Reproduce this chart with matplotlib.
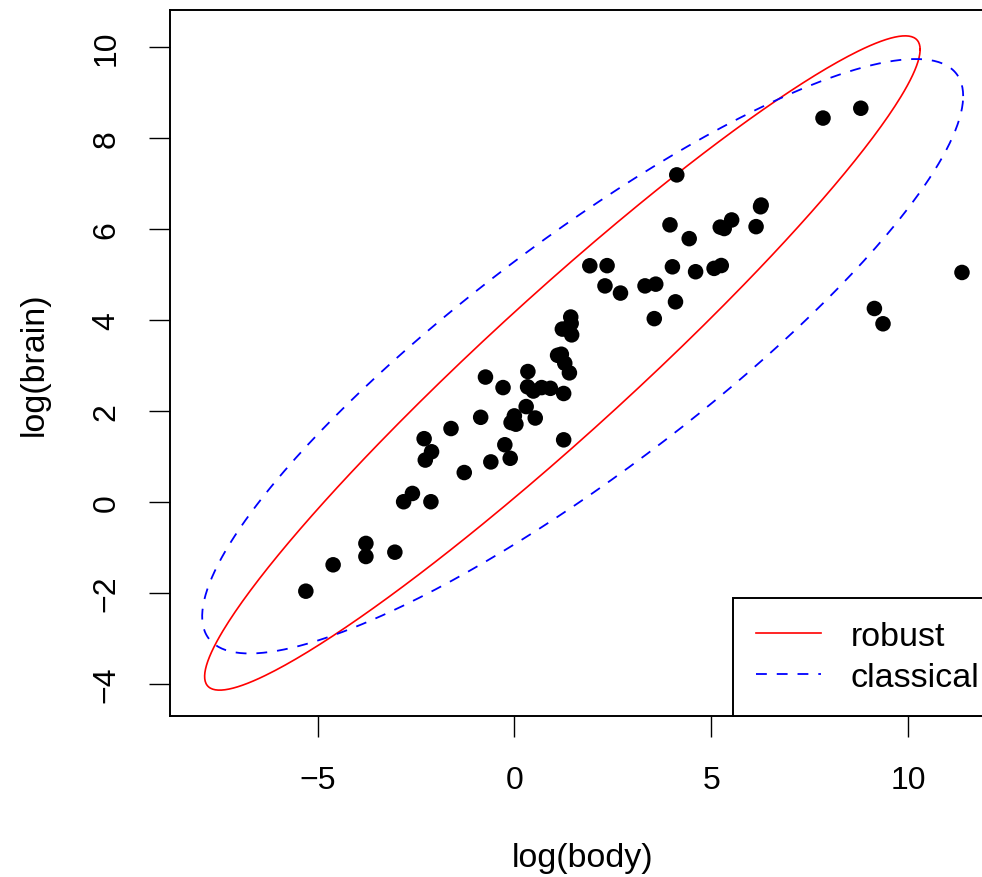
import numpy as np
import matplotlib
matplotlib.use('Agg')
import matplotlib.pyplot as plt

plt.rcParams['font.family'] = ['Liberation Sans', 'DejaVu Sans']

# Animals2: body weight (kg), brain weight (g)
animal = ["Arctic fox", "Owl monkey", "Mountain beaver", "Cow", "Grey wolf", "Goat",
          "Roe deer", "Guinea pig", "Verbet", "Chinchilla", "Ground squirrel",
          "Arctic ground squirrel", "African giant pouched rat", "Lesser short-tailed shrew",
          "Star-nosed mole", "Nine-banded armadillo", "Tree hyrax", "N.A. opossum",
          "Asian elephant", "Big brown bat", "Donkey", "Horse", "European hedgehog",
          "Patas monkey", "Cat", "Galago", "Genet", "Giraffe", "Gorilla", "Grey seal",
          "Rock hyrax-a", "Human", "African elephant", "Water opossum", "Rhesus monkey",
          "Kangaroo", "Yellow-bellied marmot", "Golden hamster", "Mouse", "Little brown bat",
          "Slow loris", "Okapi", "Rabbit", "Sheep", "Jaguar", "Chimpanzee", "Baboon",
          "Desert hedgehog", "Giant armadillo", "Rock hyrax-b", "Raccoon", "Rat",
          "E. American mole", "Mole rat", "Musk shrew", "Pig", "Echidna", "Brazilian tapir",
          "Tenrec", "Phalanger", "Tree shrew", "Red fox",
          "Brachiosaurus", "Triceratops", "Dipliodocus"]
body = [3.385, 0.48, 1.35, 465, 36.33, 27.66, 14.83, 1.04, 4.19, 0.425, 0.101,
        0.92, 1, 0.005, 0.06, 3.5, 2, 1.7, 2547, 0.023, 187.1, 521, 0.785, 10,
        3.3, 0.2, 1.41, 529, 207, 85, 0.75, 62, 6654, 3.5, 6.8, 35, 4.05, 0.12,
        0.023, 0.01, 1.4, 250, 2.5, 55.5, 100, 52.16, 10.55, 0.55, 60, 3.6, 4.288,
        0.28, 0.075, 0.122, 0.048, 192, 3, 160, 0.9, 1.62, 0.104, 4.235,
        87000, 9400, 11700]
brain = [44.5, 15.5, 8.1, 423, 119.5, 115, 98.2, 5.5, 58, 6.4, 4, 5.7, 6.6, 0.14,
         1, 10.8, 12.3, 6.3, 4603, 0.3, 419, 655, 3.5, 115, 25.6, 5, 17.5, 680,
         406, 325, 12.3, 1320, 5712, 3.9, 179, 56, 17, 1, 0.4, 0.25, 12.5, 490,
         12.1, 175, 157, 440, 179.5, 2.4, 81, 21, 39.2, 1.9, 1.2, 3, 0.33, 180,
         25, 169, 2.6, 11.4, 2.5, 50.4,
         154.5, 70, 50]

# robust (MCD) location / scatter
robust_center = [1.22, 3.05]
robust_cov = [[11.20, 8.49],
              [8.49, 7.01]]

X = np.column_stack([np.log(body), np.log(brain)])
classical_center = X.mean(axis=0)
classical_cov = np.cov(X, rowvar=False)

k = np.sqrt(7.377759)  # qchisq(0.975, 2)


def ellipse(center, cov, n=400):
    t = np.linspace(0, 2 * np.pi, n)
    L = np.linalg.cholesky(np.array(cov))
    pts = k * (L @ np.vstack([np.cos(t), np.sin(t)]))
    return center[0] + pts[0], center[1] + pts[1]


W, H = 982, 878
fig = plt.figure(figsize=(W / 100, H / 100), dpi=100)
ax = fig.add_axes([170 / W, 161 / H, (1000 - 170) / W, (717 - 11) / H])

ax.scatter(X[:, 0], X[:, 1], s=125, c='black', edgecolors='none', zorder=3)

ex, ey = ellipse(robust_center, robust_cov)
ax.plot(ex, ey, color='red', lw=1.2, label='robust')
ex, ey = ellipse(classical_center, classical_cov)
ax.plot(ex, ey, color='blue', lw=1.3, linestyle=(0, (6, 5.5)), label='classical')

ax.set_xlim(-8.75, 12.34)
ax.set_ylim(-4.71, 10.81)
ax.set_xticks([-5, 0, 5, 10])
ax.set_xticklabels(['\u22125', '0', '5', '10'])
ax.set_yticks([-4, -2, 0, 2, 4, 6, 8, 10])
ax.set_yticklabels(['\u22124', '\u22122', '0', '2', '4', '6', '8', '10'], rotation=90, va='center')
ax.tick_params(labelsize=23, length=15, width=1.0, pad=20)
for sp in ax.spines.values():
    sp.set_linewidth(1.4)
ax.set_xlabel('log(body)', fontsize=24.5)
ax.set_ylabel('log(brain)', fontsize=24.5)
ax.xaxis.set_label_coords(0.497, (717 - 843) / 706)
ax.yaxis.set_label_coords((50 - 170) / 830, 0.5)

leg = ax.legend(loc='lower left', bbox_to_anchor=(733 / W, 161 / H), bbox_transform=fig.transFigure,
                fontsize=24.5, frameon=True, fancybox=False, edgecolor='black', framealpha=1,
                handlelength=1.9, handletextpad=0.88, borderpad=0.68, labelspacing=0.3,
                borderaxespad=0)
leg.get_frame().set_linewidth(1.4)

fig.savefig('out.png', dpi=100)
